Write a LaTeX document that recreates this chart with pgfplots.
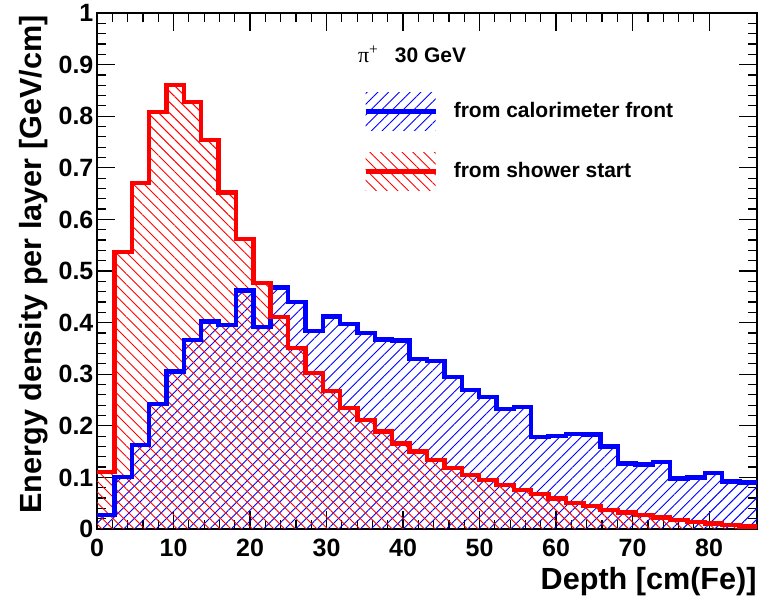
\documentclass[border=0pt]{standalone}
\usepackage{pgfplots}
\usepackage{pgfplotstable}
\pgfplotsset{compat=1.18}
\usetikzlibrary{patterns.meta}
\usepackage{fontspec}
\setmainfont{Liberation Sans}
\newfontfamily\greekfont{Liberation Serif}

% Longitudinal energy density per layer, 30 GeV pi+ ; left edges of 38 bins
\pgfplotstableread{
x      front  start
0.00   0.027  0.110
2.27   0.101  0.537
4.54   0.163  0.671
6.81   0.242  0.808
9.08   0.305  0.860
11.35  0.366  0.828
13.62  0.402  0.754
15.89  0.395  0.652
18.16  0.462  0.562
20.43  0.392  0.477
22.70  0.468  0.411
24.97  0.440  0.351
27.24  0.384  0.302
29.51  0.412  0.267
31.78  0.397  0.234
34.05  0.380  0.211
36.32  0.367  0.189
38.59  0.365  0.166
40.86  0.329  0.150
43.13  0.326  0.134
45.40  0.295  0.118
47.67  0.269  0.105
49.94  0.256  0.095
52.21  0.232  0.085
54.48  0.236  0.076
56.75  0.178  0.068
59.02  0.180  0.059
61.29  0.184  0.050
63.56  0.183  0.045
65.83  0.160  0.037
68.10  0.127  0.032
70.37  0.125  0.027
72.64  0.130  0.022
74.91  0.098  0.017
77.18  0.100  0.014
79.45  0.108  0.011
81.72  0.092  0.008
83.99  0.090  0.005
86.26  0.090  0.005
}\depthdata

\tikzset{
  bluehatch/.style={pattern={Lines[angle=45,distance=3.8bp,line width=0.45bp]}, pattern color=blue},
  redhatch/.style={pattern={Lines[angle=-45,distance=3.8bp,line width=0.45bp]}, pattern color=red},
}

\begin{document}
\begin{tikzpicture}
\useasboundingbox (0,0) rectangle (380bp,299.5bp);
\begin{axis}[
  at={(48.5bp,35bp)}, anchor=south west,
  scale only axis, width=330bp, height=258bp,
  xmin=0, xmax=86.26, ymin=0, ymax=1,
  xtick={0,10,...,80}, ytick={0,0.1,...,1.0},
  minor x tick num=4, minor y tick num=4,
  tick align=inside, tick pos=both,
  major tick length=9bp, minor tick length=4.5bp,
  every tick/.style={black, line width=0.6bp},
  axis line style={black, line width=0.6bp},
  /pgf/number format/assume math mode=true,
  yticklabel style={/pgf/number format/fixed, /pgf/number format/precision=1},
  tick label style={font=\fontsize{12.5bp}{14bp}\selectfont\bfseries},
  xticklabel style={yshift=-1.3bp},
  yticklabel style={xshift=1.7bp},
  xlabel={Depth [cm(Fe)]},
  ylabel={Energy density per layer [GeV/cm]},
  label style={font=\fontsize{15.3bp}{17bp}\selectfont\bfseries},
  xlabel style={at={(axis description cs:1,-0.1182)}, anchor=base east, inner sep=0pt},
  ylabel style={at={(axis description cs:-0.0848,0.9961)}, anchor=base east, inner sep=0pt},
  legend cell align=left,
  legend style={at={(axis description cs:0.403,0.847)}, anchor=north west,
    draw=none, fill=none, inner sep=0pt, row sep=11bp,
    font=\fontsize{10.5bp}{12bp}\selectfont\bfseries,
    nodes={inner sep=0pt},
    /tikz/every odd column/.append style={column sep=8bp}},
]
% hatched areas
\addplot[const plot, draw=none, bluehatch, forget plot] table[x=x, y=front] {\depthdata} \closedcycle;
\addplot[const plot, draw=none, redhatch, forget plot] table[x=x, y=start] {\depthdata} \closedcycle;
% outlines
\addplot[const plot, blue, line width=2.2bp,
  legend image code/.code={
    \path[draw=none, bluehatch] (0bp,-9.5bp) rectangle (35bp,9.5bp);
    \draw[blue, line width=2.2bp] (0bp,0bp) -- (35bp,0bp);}]
  table[x=x, y=front] {\depthdata};
\addlegendentry{from calorimeter front}
\addplot[const plot, red, line width=2.2bp,
  legend image code/.code={
    \path[draw=none, redhatch] (0bp,-9.5bp) rectangle (35bp,9.5bp);
    \draw[red, line width=2.2bp] (0bp,0bp) -- (35bp,0bp);}]
  table[x=x, y=start] {\depthdata};
\addlegendentry{from shower start}
\node[anchor=base west, inner sep=0pt] at (axis description cs:0.395,0.905)
  {{\greekfont\fontsize{11bp}{12bp}\selectfont π\textsuperscript{+}}\hspace{8bp}{\fontsize{10.5bp}{12bp}\selectfont\bfseries 30 GeV}};
\end{axis}
\end{tikzpicture}
\end{document}
